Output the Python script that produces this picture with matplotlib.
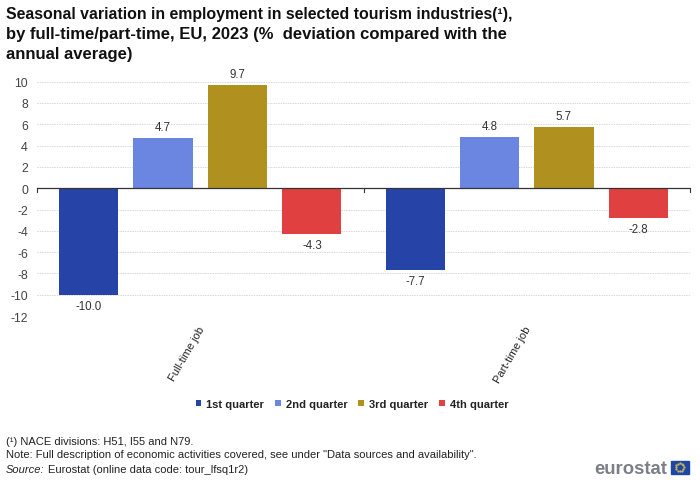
import matplotlib
matplotlib.use("Agg")
import matplotlib.pyplot as plt
from matplotlib.patches import Rectangle
import numpy as np

plt.rcParams['font.family'] = ['Liberation Sans', 'DejaVu Sans']

categories = ["Full-time job", "Part-time job"]
series_names = ["1st quarter", "2nd quarter", "3rd quarter", "4th quarter"]
q1 = [-10.0, -7.7]
q2 = [4.7, 4.8]
q3 = [9.7, 5.7]
q4 = [-4.3, -2.8]
colors = ["#2644A7", "#6A86E0", "#B09120", "#E04040"]
yticks = [10, 8, 6, 4, 2, 0, -2, -4, -6, -8, -10, -12]

W, H = 700, 481
fig = plt.figure(figsize=(W/100, H/100), dpi=100)
ax = fig.add_axes([37/W, 1-317/H, 653/W, 234.3/H])
ax.set_xlim(-0.5, 1.5)
ax.set_ylim(-12, 10)

pitch, width = 0.228, 0.181
for i, (vals, c, name) in enumerate(zip([q1, q2, q3, q4], colors, series_names)):
    x = np.arange(2) + (i-1.5)*pitch
    ax.bar(x, vals, width, color=c, label=name, zorder=3)
    for xi, v in zip(x, vals):
        off = 3.6 if v > 0 else -3.6
        ax.annotate(f"{v:.1f}", (xi, v), xytext=(0, off), textcoords="offset points",
                    ha="center", va="bottom" if v > 0 else "top",
                    fontsize=8.3, color="#333333", zorder=4)

for s in ax.spines.values():
    s.set_visible(False)
ax.set_yticks(yticks)
ax.tick_params(axis="y", length=0, pad=6.5, labelsize=8.8, labelcolor="#444444")
ax.set_yticklabels([str(t) for t in yticks])
ax.grid(axis="y", color="#d8d8d8", linewidth=0.7, linestyle=(0, (1.5, 1)), zorder=0)
ax.set_axisbelow(True)
ax.axhline(0, color="#333333", linewidth=0.9, zorder=5)
for xt in [-0.5, 0.5, 1.5]:
    ax.plot([xt, xt], [0, -0.35], color="#333333", linewidth=0.8, zorder=5, clip_on=False)
ax.set_xticks([])

for xc, lab in zip(range(2), categories):
    ax.text(xc-0.042, -12.75, lab, rotation=60, ha="center", va="top",
            fontsize=8.0, color="#222222", clip_on=False)

title_lines = ["Seasonal variation in employment in selected tourism industries(¹),",
               "by full-time/part-time, EU, 2023 (%  deviation compared with the",
               "annual average)"]
title_sizes = [11.45, 11.95, 11.95]
for yy, line, size in zip([15, 34.5, 54], title_lines, title_sizes):
    fig.text(6/W, 1-yy/H, line, fontsize=size, fontweight="bold", color="#111111", va="center", ha="left")

handles, labels = ax.get_legend_handles_labels()
leg = fig.legend(handles, labels, loc="center", bbox_to_anchor=(352/W, 1-405/H), ncol=4, frameon=False,
                 handlelength=0.5, handleheight=0.5, handletextpad=0.45,
                 columnspacing=1.0, borderpad=0, prop={"weight": "bold", "size": 8.0})
for t in leg.get_texts():
    t.set_color("#222222")

fs = 8.03
fig.text(6/W, 1-442/H, "(¹) NACE divisions: H51, I55 and N79.", fontsize=fs, color="#222222", va="center")
fig.text(6/W, 1-455/H, "Note: Full description of economic activities covered, see under \"Data sources and availability\".",
         fontsize=fs, color="#222222", va="center")
fig.text(6/W, 1-470.5/H, "Source:", fontsize=fs, style="italic", color="#222222", va="center")
fig.text(48/W, 1-470.5/H, "Eurostat (online data code: tour_lfsq1r2)", fontsize=fs, color="#222222", va="center")

fig.text(594/W, 1-469.5/H, "eurostat", fontsize=13.3, fontweight="bold", color="#7b7f86", va="center", ha="left")
fig.add_artist(Rectangle((670.5/W, 1-474.5/H), 18.5/W, 12.5/H, transform=fig.transFigure, color="#1E46A5"))
th = np.arange(12)*np.pi/6
fig.add_artist(plt.Line2D((679.7+4.0*np.cos(th))/W, (1-468.2/H)+4.0*np.sin(th)/H, transform=fig.transFigure,
                          linestyle="none", marker="o", markersize=0.6, color="#D8C050"))

fig.savefig("out.png", dpi=100)
